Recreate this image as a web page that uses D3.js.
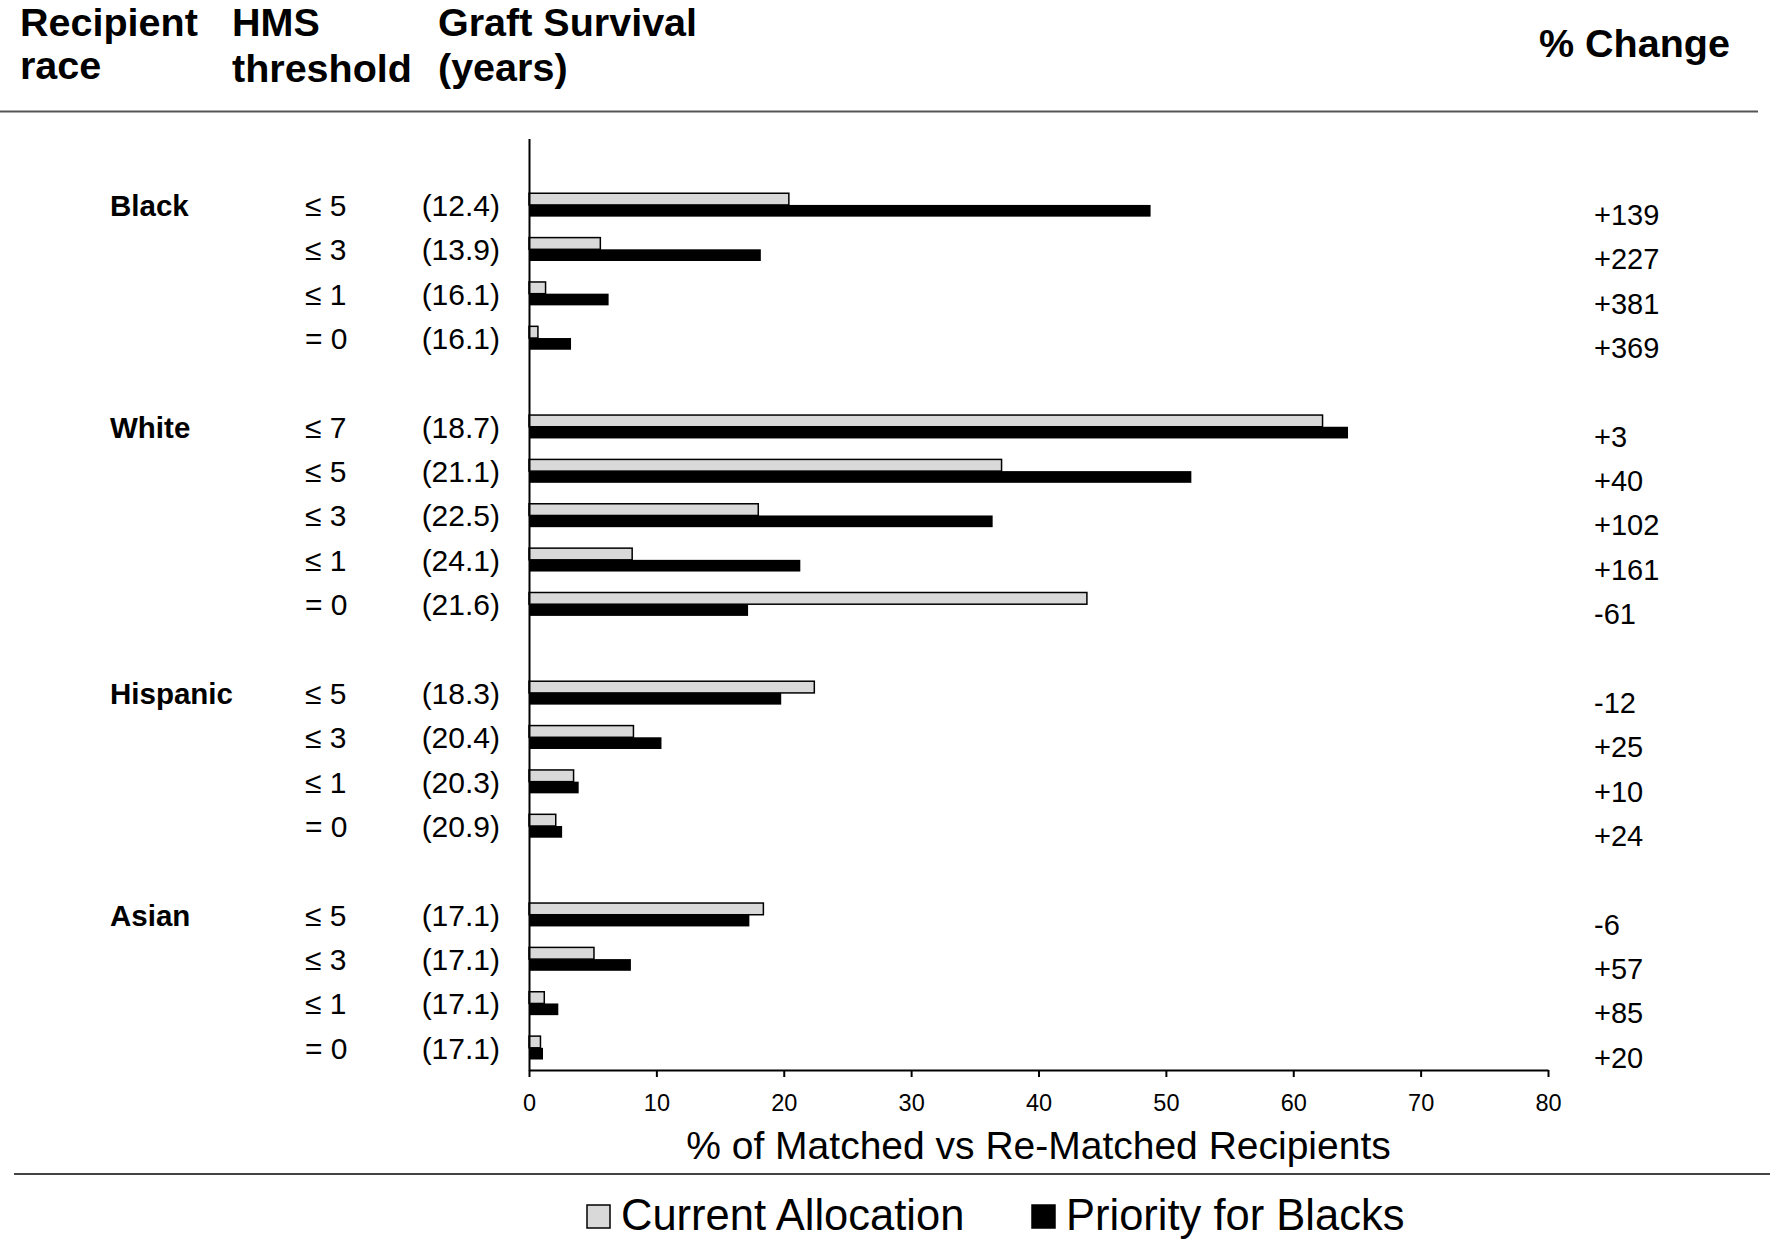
<!DOCTYPE html>
<html>
<head>
<meta charset="utf-8">
<script src="https://cdn.jsdelivr.net/npm/d3@7"></script>
<style>
  html, body { margin: 0; padding: 0; background: #fff; }
  svg { display: block; font-family: "Liberation Sans", Arial, Helvetica, sans-serif; }
</style>
</head>
<body>
<svg id="chart" width="1772" height="1242"></svg>
<script>
// ---------------- data ----------------
const raceGroups     = ["Black", "White", "Hispanic", "Asian"];
const rowRace        = ["Black","Black","Black","Black",
                        "White","White","White","White","White",
                        "Hispanic","Hispanic","Hispanic","Hispanic",
                        "Asian","Asian","Asian","Asian"];
const rowThreshold   = ["≤ 5","≤ 3","≤ 1","= 0",
                        "≤ 7","≤ 5","≤ 3","≤ 1","= 0",
                        "≤ 5","≤ 3","≤ 1","= 0",
                        "≤ 5","≤ 3","≤ 1","= 0"];
const rowSurvival    = ["(12.4)","(13.9)","(16.1)","(16.1)",
                        "(18.7)","(21.1)","(22.5)","(24.1)","(21.6)",
                        "(18.3)","(20.4)","(20.3)","(20.9)",
                        "(17.1)","(17.1)","(17.1)","(17.1)"];
const currentAllocation = [20.4, 5.6, 1.3, 0.7,
                           62.3, 37.1, 18.0, 8.1, 43.8,
                           22.4, 8.2, 3.5, 2.1,
                           18.4, 5.1, 1.2, 0.9];
const priorityForBlacks = [48.8, 18.2, 6.25, 3.3,
                           64.3, 52.0, 36.4, 21.3, 17.2,
                           19.8, 10.4, 3.9, 2.6,
                           17.3, 8.0, 2.3, 1.1];
const pctChange      = ["+139","+227","+381","+369",
                        "+3","+40","+102","+161","-61",
                        "-12","+25","+10","+24",
                        "-6","+57","+85","+20"];
const xTicks         = [0, 10, 20, 30, 40, 50, 60, 70, 80];
const seriesNames    = ["Current Allocation", "Priority for Blacks"];
const headerLabels   = [["Recipient", "race"], ["HMS", "threshold"], ["Graft Survival", "(years)"]];
const changeHeader   = "% Change";
const xTitle         = "% of Matched vs Re-Matched Recipients";

// ---------------- build rows & slots ----------------
const rows = rowRace.map((r, i) => ({
  key: "r" + i, race: r, thr: rowThreshold[i], surv: rowSurvival[i],
  cur: currentAllocation[i], pri: priorityForBlacks[i], chg: pctChange[i],
  first: i === 0 || rowRace[i - 1] !== r
}));
const slots = ["top"];
raceGroups.forEach((g, gi) => {
  if (gi > 0) slots.push("gap" + gi);
  rows.filter(d => d.race === g).forEach(d => slots.push(d.key));
});

// ---------------- scales ----------------
const svg = d3.select("#chart");
svg.append("rect").attr("width", 1772).attr("height", 1242).attr("fill", "#fff");

const x = d3.scaleLinear().domain([0, 80]).range([529, 1548]);
const y = d3.scaleBand().domain(slots).range([138.4, 1070]).padding(0);
const barPair = 23.4;
const sub = d3.scaleBand().domain(["cur", "pri"]).range([0, barPair]).padding(0);
const center = d => y(d.key) + y.bandwidth() / 2;

const FONT = "\"Liberation Sans\", Arial, Helvetica, sans-serif";

// ---------------- header ----------------
const headerX = [20, 232, 438];
const headerY = [[36, 79], [36, 82], [36, 81]];
headerLabels.forEach((lines, i) => {
  lines.forEach((t, j) => {
    svg.append("text").attr("x", headerX[i]).attr("y", headerY[i][j])
      .attr("font-size", 39.5).attr("font-weight", "bold").attr("fill", "#000")
      .text(t);
  });
});
svg.append("text").attr("x", 1539).attr("y", 57)
  .attr("font-size", 39.5).attr("font-weight", "bold").attr("fill", "#000")
  .text(changeHeader);

// rules
svg.append("line").attr("x1", 0).attr("x2", 1758).attr("y1", 111.5).attr("y2", 111.5)
  .attr("stroke", "#555").attr("stroke-width", 2);
svg.append("line").attr("x1", 14).attr("x2", 1770).attr("y1", 1174).attr("y2", 1174)
  .attr("stroke", "#444").attr("stroke-width", 2);

// ---------------- bars ----------------
const barG = svg.append("g");
barG.selectAll("rect.cur").data(rows).join("rect").attr("class", "cur")
  .attr("x", x(0)).attr("y", d => center(d) - barPair / 2 + sub("cur"))
  .attr("width", d => x(d.cur) - x(0)).attr("height", sub.bandwidth())
  .attr("fill", "#d9d9d9").attr("stroke", "#000").attr("stroke-width", 1.5);
barG.selectAll("rect.pri").data(rows).join("rect").attr("class", "pri")
  .attr("x", x(0)).attr("y", d => center(d) - barPair / 2 + sub("pri"))
  .attr("width", d => x(d.pri) - x(0)).attr("height", sub.bandwidth())
  .attr("fill", "#000");

// ---------------- axes ----------------
const yAxis = svg.append("g").attr("transform", `translate(${x(0)},0)`)
  .call(d3.axisLeft(y).tickSize(0).tickSizeOuter(0).tickFormat(""));
yAxis.select(".domain").attr("stroke", "#000").attr("stroke-width", 2);

const xAxis = svg.append("g").attr("transform", `translate(0,${y.range()[1]})`)
  .call(d3.axisBottom(x).tickValues(xTicks).tickSize(7).tickSizeOuter(0).tickPadding(17));
xAxis.select(".domain").attr("stroke", "#000").attr("stroke-width", 2);
xAxis.selectAll(".tick line").attr("stroke", "#000").attr("stroke-width", 2);
xAxis.selectAll(".tick text").attr("font-size", 23.5).attr("font-family", FONT).attr("fill", "#000");

svg.append("text").attr("x", (x(0) + x(80)) / 2).attr("y", 1159)
  .attr("text-anchor", "middle").attr("font-size", 39).attr("fill", "#000")
  .text(xTitle);

// ---------------- row labels ----------------
const lab = svg.append("g").attr("fill", "#000");
lab.selectAll("text.race").data(rows.filter(d => d.first)).join("text").attr("class", "race")
  .attr("x", 110).attr("y", d => center(d) + 11)
  .attr("font-size", 29.5).attr("font-weight", "bold").text(d => d.race);
lab.selectAll("text.thr").data(rows).join("text").attr("class", "thr")
  .attr("x", 305).attr("y", d => center(d) + 11)
  .attr("font-size", 30).text(d => d.thr);
lab.selectAll("text.surv").data(rows).join("text").attr("class", "surv")
  .attr("x", 500).attr("y", d => center(d) + 11).attr("text-anchor", "end")
  .attr("font-size", 30).text(d => d.surv);
lab.selectAll("text.chg").data(rows).join("text").attr("class", "chg")
  .attr("x", 1594).attr("y", d => center(d) + 20)
  .attr("font-size", 29).text(d => d.chg);

// ---------------- legend ----------------
const legendX = [587, 1032];
const legendFill = ["#d9d9d9", "#000"];
seriesNames.forEach((s, i) => {
  svg.append("rect").attr("x", legendX[i]).attr("y", 1205).attr("width", 23).attr("height", 23)
    .attr("fill", legendFill[i]).attr("stroke", "#000").attr("stroke-width", 1.5);
  svg.append("text").attr("x", legendX[i] + 34).attr("y", 1230)
    .attr("font-size", 43.5).attr("fill", "#000").text(s);
});
</script>
</body>
</html>
